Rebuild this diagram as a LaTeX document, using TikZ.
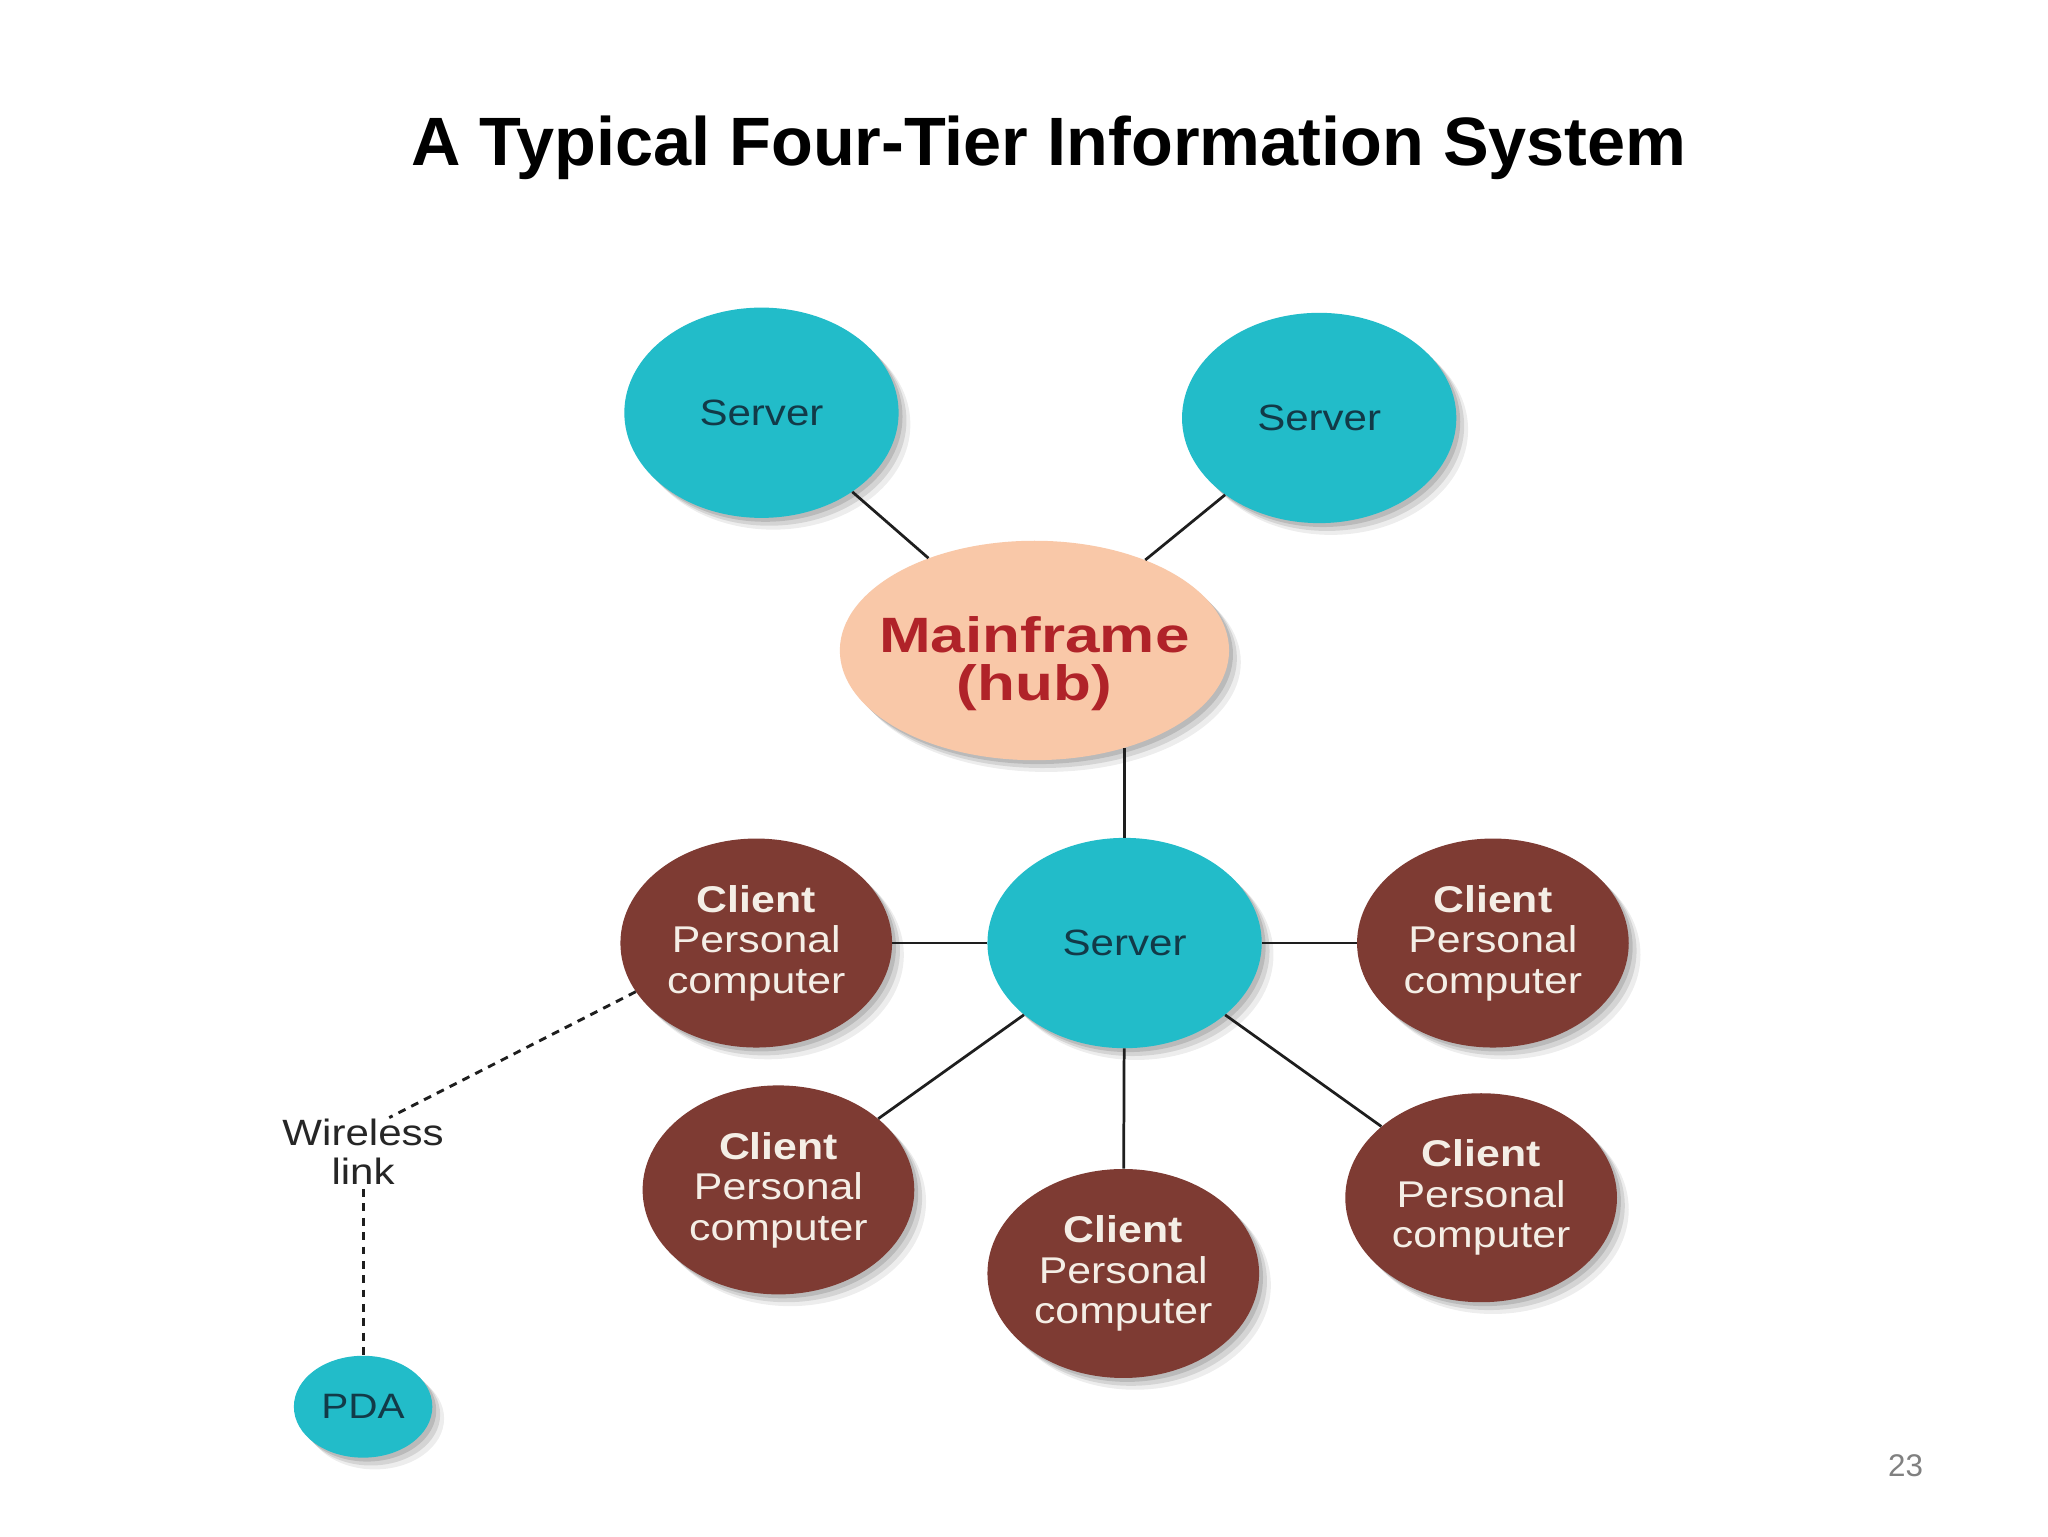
\documentclass[tikz,border=0pt]{standalone}
\usepackage{fontspec}
\setmainfont{Liberation Sans}
\newfontfamily\nf[FakeStretch=1.15]{Liberation Sans}
\newfontfamily\mff[FakeStretch=1.25]{Liberation Sans}
\usetikzlibrary{shapes.geometric,shadows}
\definecolor{tealc}{HTML}{22BCC9}
\definecolor{brownc}{HTML}{7E3B33}
\definecolor{peachc}{HTML}{F9C8A8}
\definecolor{srvtext}{HTML}{123A48}
\definecolor{clitext}{HTML}{F4EEE6}
\definecolor{mftext}{HTML}{B02329}
\definecolor{linec}{HTML}{1E1E1E}
\tikzset{
  shad/.style={drop shadow={shadow xshift=3pt,shadow yshift=-3pt,fill=black,opacity=.12},
               drop shadow={shadow xshift=6pt,shadow yshift=-6pt,fill=black,opacity=.10},
               drop shadow={shadow xshift=9pt,shadow yshift=-9pt,fill=black,opacity=.07}},
  ell/.style={ellipse, inner sep=0pt, shad, align=center},
  srv/.style={ell, fill=tealc, minimum width=210pt, minimum height=161pt,
              text=srvtext, font=\nf\fontsize{28}{31}\selectfont},
  cli/.style={ell, fill=brownc, minimum width=208pt, minimum height=160pt,
              text=clitext, font=\nf\fontsize{28.5}{31}\selectfont},
  conn/.style={draw=linec, line width=2.1pt},
  wconn/.style={draw=linec, line width=2.2pt, dash pattern=on 6pt off 5pt},
}
\begin{document}
\begin{tikzpicture}[x=1pt,y=-1pt]
\useasboundingbox[fill=white] (0,0) rectangle (1568,1176);
\node[font=\bfseries\fontsize{52.4}{60}\selectfont, anchor=base] (title) at (803,127) {A Typical Four-Tier Information System};
\node[srv] (stl) at (583,316) {Server};
\node[srv] (str) at (1010,320) {Server};
\node[ell, fill=peachc, minimum width=298pt, minimum height=168pt,
      label={[yshift=-10pt, align=center, text=mftext, font=\mff\bfseries\fontsize{38}{37}\selectfont]center:Mainframe\\(hub)}] (mf) at (792,498) {};
\node[srv] (cs) at (861,722) {Server};
\node[cli] (cl) at (579,722) {\textbf{Client}\\Personal\\computer};
\node[cli] (cr) at (1143,722) {\textbf{Client}\\Personal\\computer};
\node[cli] (cbl) at (596,911) {\textbf{Client}\\Personal\\computer};
\node[cli] (cb) at (860,975) {\textbf{Client}\\Personal\\computer};
\node[cli] (cbr) at (1134,917) {\textbf{Client}\\Personal\\computer};
\node[ell, fill=tealc, minimum width=106pt, minimum height=78pt, text=srvtext,
      font=\nf\fontsize{27}{30}\selectfont] (pda) at (278,1077) {PDA};
\node[align=center, inner sep=3pt, text=black!85, font=\nf\fontsize{28}{30}\selectfont] (wl) at (278,882) {Wireless\\link};
\node[text=black!50, font=\fontsize{24}{28}\selectfont] (pg) at (1459,1122) {23};
% connectors
\draw[conn] (stl) -- (mf);
\draw[conn] (str) -- (mf);
\draw[conn] (cs.north) -- (cs.north |- mf.-47);
\draw[conn] (cs) -- (cl);
\draw[conn] (cs) -- (cr);
\draw[conn] (cs) -- (cbl);
\draw[conn] (cs) -- (cb);
\draw[conn] (cs) -- (cbr);
\draw[wconn] (cl.202) -- ([xshift=20pt,yshift=-2pt]wl.north);
\draw[wconn] (wl.south) -- (pda.north);
\end{tikzpicture}
\end{document}
